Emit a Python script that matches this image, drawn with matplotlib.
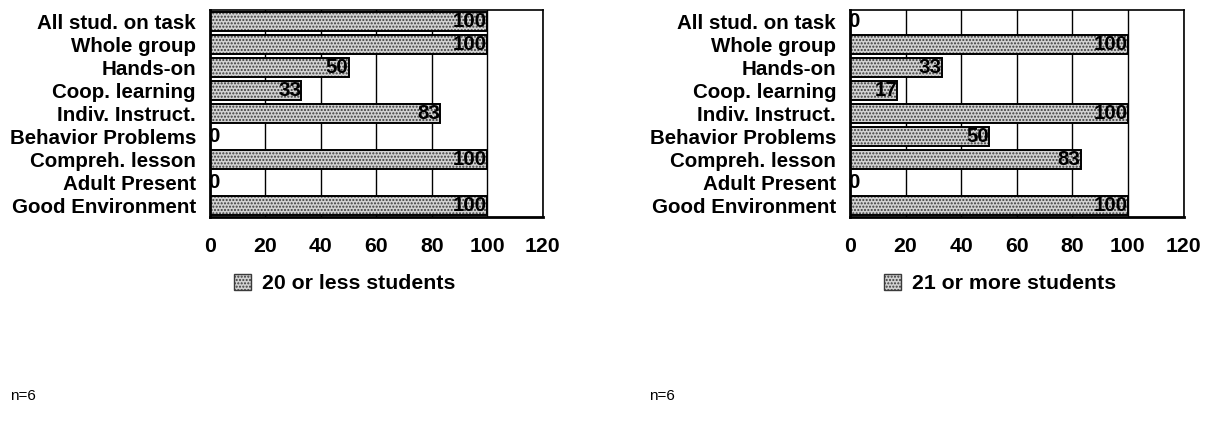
import matplotlib
matplotlib.use("Agg")
import matplotlib.pyplot as plt
import matplotlib.patches as mpatches
import numpy as np

plt.rcParams['font.family'] = ['Liberation Sans', 'DejaVu Sans']

categories = ["All stud. on task", "Whole group", "Hands-on", "Coop. learning",
              "Indiv. Instruct.", "Behavior Problems", "Compreh. lesson",
              "Adult Present", "Good Environment"]
small_class = [100, 100, 50, 33, 83, 0, 100, 0, 100]
large_class = [0, 100, 33, 17, 100, 50, 83, 0, 100]
xticks = [0, 20, 40, 60, 80, 100, 120]
legend_labels = ["20 or less students", "21 or more students"]
note = "n=6"

FS = 14.8

fig = plt.figure(figsize=(12.13, 4.25), dpi=100)

def draw_panel(ax, values, label, leg_x):
    y = np.arange(len(categories))
    # stipple layer, then black outline on top
    ax.barh(y, values, height=0.85, color='#d2d2d2', edgecolor='#3a3a3a',
            hatch='.....', linewidth=0, zorder=2)
    ax.barh(y, values, height=0.85, fill=False, edgecolor='black',
            linewidth=1.4, zorder=3)
    for i, v in enumerate(values):
        if v == 0:
            ax.text(-0.6, i, str(v), ha='left', va='center', fontsize=FS,
                    fontweight='bold', zorder=4)
        else:
            ax.text(v, i, str(v), ha='right', va='center', fontsize=FS,
                    fontweight='bold', zorder=4)
    ax.set_xlim(0, 120)
    ax.set_ylim(len(categories) - 0.5, -0.5)
    ax.set_xticks(xticks)
    ax.set_xticklabels([str(t) for t in xticks], fontsize=FS + 0.5, fontweight='bold')
    ax.set_yticks(y)
    ax.set_yticklabels(categories, fontsize=FS, fontweight='bold')
    ax.tick_params(axis='x', length=0, pad=14)
    ax.tick_params(axis='y', length=0, pad=10)
    ax.grid(axis='x', color='black', linewidth=1.0, zorder=1)
    ax.set_axisbelow(True)
    for s in ax.spines.values():
        s.set_color('black')
        s.set_linewidth(1.2)
    ax.spines['left'].set_linewidth(2.0)
    ax.spines['bottom'].set_linewidth(2.0)
    handle = mpatches.Patch(facecolor='#d2d2d2', edgecolor='#3a3a3a', hatch='.....')
    ax.legend([handle], [label], loc='center', bbox_to_anchor=(leg_x, -0.32),
              frameon=False, prop={'weight': 'bold', 'size': FS + 0.5},
              handlelength=0.8, handleheight=0.8, handletextpad=0.5)

ax1 = fig.add_axes([0.173, 0.489, 0.2745, 0.487])
draw_panel(ax1, small_class, legend_labels[0], 0.405)

ax2 = fig.add_axes([0.7007, 0.489, 0.275, 0.487])
draw_panel(ax2, large_class, legend_labels[1], 0.45)

fig.text(0.008, 0.06, note, fontsize=11)
fig.text(0.535, 0.06, note, fontsize=11)

fig.savefig("out.png", dpi=100)
